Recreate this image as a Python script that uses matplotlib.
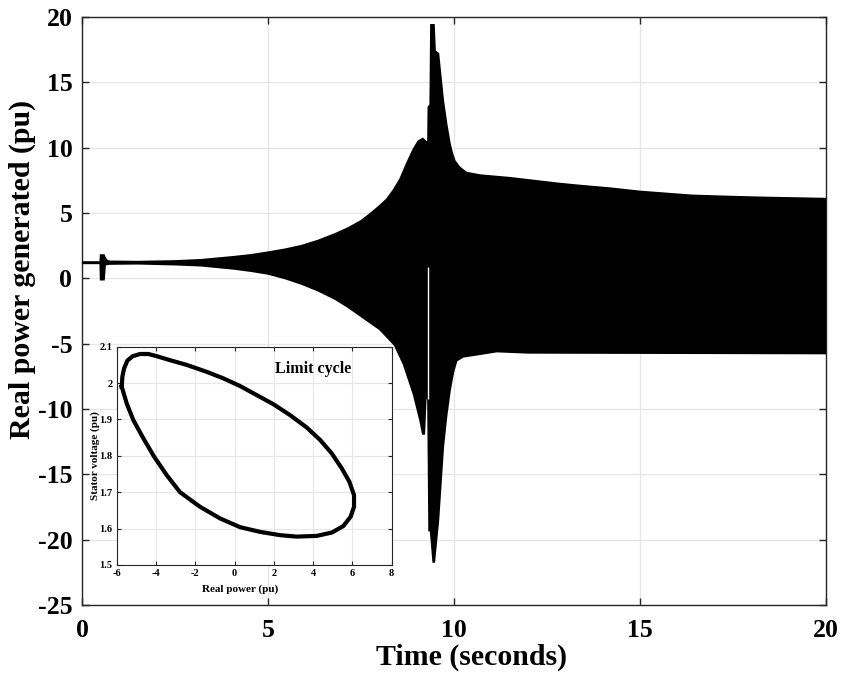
import numpy as np
import matplotlib
matplotlib.use("Agg")
import matplotlib.pyplot as plt

plt.rcParams['font.family'] = ['Liberation Serif', 'DejaVu Serif']
plt.rcParams['font.weight'] = 'bold'
plt.rcParams['axes.unicode_minus'] = False

# upper / lower envelope of the real power oscillation
t_upper = [0, 0.49, 0.5, 0.59, 0.62, 0.68, 0.75, 1.5, 2.5, 3.2, 4.1, 4.55, 5.0, 5.45,
           5.9, 6.35, 6.8, 7.15, 7.5, 7.75, 8.0, 8.19, 8.37, 8.55, 8.73, 8.91, 9.04,
           9.16, 9.27, 9.3, 9.31, 9.36, 9.38, 9.46, 9.49, 9.58, 9.71, 9.8, 9.89, 9.95,
           10.02, 10.15, 10.33, 10.7, 11.5, 12.85, 13.4, 14.2, 15.0, 16.4, 17.3, 18.2, 20.0]
p_upper = [1.25, 1.25, 1.78, 1.78, 1.55, 1.35, 1.3, 1.28, 1.33, 1.42, 1.66, 1.8, 2.0, 2.22,
           2.5, 2.9, 3.4, 3.85, 4.4, 4.95, 5.55, 6.05, 6.75, 7.6, 8.8, 9.9, 10.5,
           10.7, 10.4, 10.5, 13.1, 13.3, 19.4, 19.4, 17.4, 17.2, 13.6, 11.8, 10.3, 9.6,
           9.0, 8.5, 8.1, 7.9, 7.7, 7.25, 7.1, 6.9, 6.65, 6.35, 6.27, 6.2, 6.1]
t_lower = [0, 0.49, 0.5, 0.59, 0.62, 0.75, 1.5, 2.5, 3.2, 4.1, 4.55, 5.0, 5.45, 5.9,
           6.35, 6.8, 7.15, 7.5, 7.75, 8.0, 8.2, 8.4, 8.64, 8.91, 9.09, 9.16, 9.2,
           9.24, 9.3, 9.33, 9.37, 9.44, 9.47, 9.58, 9.71, 9.8, 9.89, 9.98, 10.07, 10.25,
           10.6, 11.15, 12.0, 20.0]
p_lower = [1.15, 1.15, -0.1, -0.1, 1.05, 1.1, 1.12, 1.05, 0.97, 0.72, 0.55, 0.34, 0.0, -0.43,
           -0.95, -1.58, -2.2, -2.9, -3.4, -3.9, -4.5, -5.1, -6.55, -8.85, -10.9, -11.9, -11.9,
           -9.2, -9.2, -19.3, -19.3, -21.7, -21.7, -18.5, -12.9, -10.5, -8.6, -7.2, -6.3, -6.0,
           -5.85, -5.6, -5.7, -5.75]
# short break in the trace near t = 9.3 s
gap_t = 9.29
gap_top = 0.85
gap_bottom = -9.2

# limit cycle: real power vs stator voltage
cycle_p = [-5.745, -5.712, -5.627, -5.457, -5.185, -4.812, -4.388, -3.964, -3.285, -2.436,
           -1.418, -0.570, 0.279, 1.127, 1.976, 2.824, 3.673, 4.351, 4.945, 5.454,
           5.845, 6.082, 6.082, 5.913, 5.539, 4.945, 4.182, 3.163, 2.315, 1.297,
           0.279, -0.739, -1.758, -2.776, -3.455, -4.099, -4.642, -5.152, -5.491, -5.695,
           -5.745]
cycle_v = [1.990, 2.018, 2.040, 2.062, 2.074, 2.080, 2.080, 2.074, 2.063, 2.050,
           2.031, 2.013, 1.992, 1.967, 1.942, 1.912, 1.878, 1.844, 1.807, 1.766,
           1.729, 1.692, 1.660, 1.633, 1.607, 1.589, 1.580, 1.578, 1.582, 1.591,
           1.604, 1.628, 1.660, 1.700, 1.747, 1.798, 1.848, 1.898, 1.944, 1.981,
           1.990]

fig = plt.figure(figsize=(8.44, 6.73), dpi=100)
ax = fig.add_axes([0.0972, 0.101, 0.8815, 0.8737])

ax.fill(np.r_[t_upper, t_lower[::-1]], np.r_[p_upper, p_lower[::-1]],
        color='black', lw=1.2, zorder=3)
ax.vlines(gap_t, gap_bottom, gap_top, color='white', lw=1.0, zorder=4)

ax.set_xlim(0, 20)
ax.set_ylim(-25, 20)
ax.set_xticks(np.arange(0, 21, 5))
ax.set_yticks(np.arange(-25, 21, 5))
ax.grid(True, color='#e6e6e6', lw=0.9, zorder=0)
ax.tick_params(direction='in', length=5, width=1, top=True, right=True,
               labelsize=18.5, pad=7, colors='#262626', labelcolor='black')
ax.tick_params(axis='x', pad=10)
for lbl in ax.get_xticklabels() + ax.get_yticklabels():
    lbl.set_fontweight('bold')
for s in ax.spines.values():
    s.set_color('#262626')
    s.set_linewidth(1)
ax.set_xlabel('Time (seconds)', fontsize=21.5, fontweight='bold')
ax.set_ylabel('Real power generated (pu)', fontsize=21.5, fontweight='bold')
ax.xaxis.set_label_coords(0.523, -0.066)
ax.yaxis.set_label_coords(-0.062, 0.57)

# inset with the limit cycle
ins = fig.add_axes([0.1383, 0.1605, 0.3258, 0.3243])
ins.plot(cycle_p, cycle_v, color='black', lw=3.0, solid_joinstyle='round', zorder=3)
ins.set_xlim(-6, 8)
ins.set_ylim(1.5, 2.1)
ins.set_xticks(np.arange(-6, 9, 2))
ins.set_yticks(np.round(np.arange(1.5, 2.11, 0.1), 1))
ins.set_yticklabels(['1.5', '1.6', '1.7', '1.8', '1.9', '2', '2.1'])
ins.grid(True, color='#e6e6e6', lw=0.8, zorder=0)
ins.tick_params(direction='in', length=3, width=0.8, top=True, right=True,
                labelsize=7.5, pad=3, colors='#262626', labelcolor='black')
for lbl in ins.get_xticklabels() + ins.get_yticklabels():
    lbl.set_fontweight('bold')
for s in ins.spines.values():
    s.set_color('#262626')
    s.set_linewidth(0.8)
ins.set_xlabel('Real power (pu)', fontsize=8, fontweight='bold')
ins.set_ylabel('Stator voltage (pu)', fontsize=8, fontweight='bold')
ins.xaxis.set_label_coords(0.45, -0.09)
ins.yaxis.set_label_coords(-0.06, 0.5)
ins.text(4.0, 2.038, 'Limit cycle', fontsize=11.5, fontweight='bold',
         ha='center', va='center')

fig.savefig('out.png', dpi=100)
